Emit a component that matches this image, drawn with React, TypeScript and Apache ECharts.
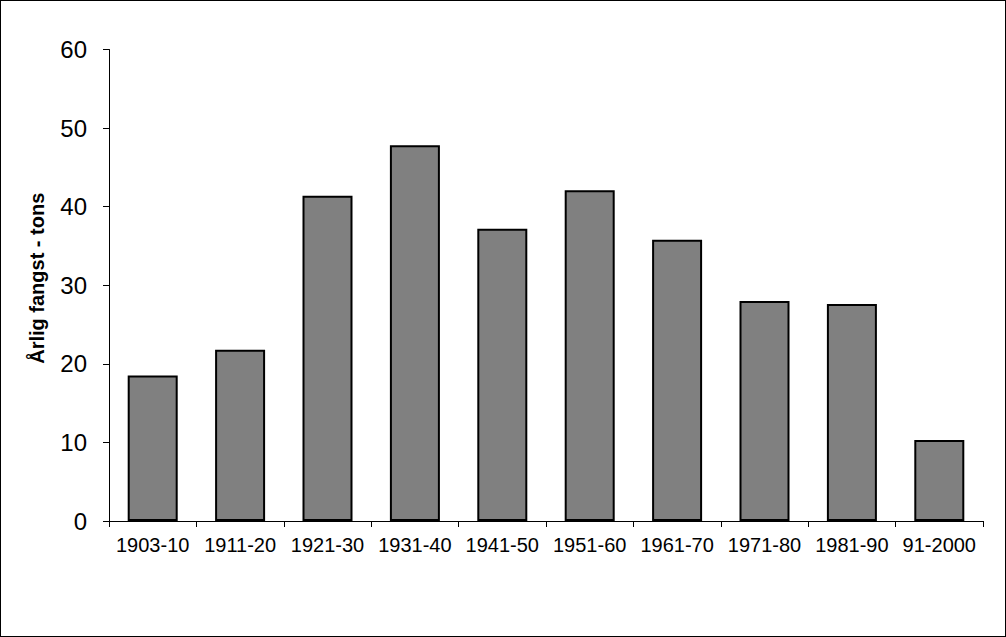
import { useEffect, useRef } from 'react';
import * as echarts from 'echarts';

const periods = ['1903-10', '1911-20', '1921-30', '1931-40', '1941-50', '1951-60', '1961-70', '1971-80', '1981-90', '91-2000'];
const catch_tons = [18.5, 21.8, 41.4, 47.8, 37.2, 42.1, 35.8, 28.0, 27.6, 10.3];

const FONT = '"Liberation Sans", Arial, sans-serif';

export default function App() {
  const chartRef = useRef<HTMLDivElement>(null);

  useEffect(() => {
    if (!chartRef.current) return;
    const chart = echarts.init(chartRef.current, null, { renderer: 'svg' });

    chart.setOption({
      animation: false,
      backgroundColor: '#ffffff',
      grid: { left: 108, right: 22, top: 48.5, bottom: 115, containLabel: false },
      xAxis: {
        type: 'category',
        data: periods,
        boundaryGap: true,
        axisLine: { lineStyle: { color: '#000', width: 1 } },
        axisTick: { show: true, inside: false, length: 6, alignWithLabel: false, lineStyle: { color: '#000' } },
        axisLabel: { color: '#000', fontSize: 20, fontFamily: FONT, margin: 14, interval: 0 },
        splitLine: { show: false },
      },
      yAxis: {
        type: 'value',
        min: 0,
        max: 60,
        interval: 10,
        name: 'Årlig fangst - tons',
        nameLocation: 'middle',
        nameGap: 62,
        nameRotate: 90,
        nameTextStyle: { color: '#000', fontSize: 20, fontWeight: 'bold', fontFamily: FONT, padding: [0, 0, 0, 14] },
        axisLine: { show: true, lineStyle: { color: '#000', width: 1 } },
        axisTick: { show: true, inside: false, length: 6, lineStyle: { color: '#000' } },
        axisLabel: { color: '#000', fontSize: 24, fontFamily: FONT, margin: 22 },
        splitLine: { show: false },
      },
      series: [
        {
          type: 'bar',
          data: catch_tons,
          barWidth: 50,
          itemStyle: { color: '#808080', borderColor: '#000', borderWidth: 2 },
        },
      ],
    });

    return () => chart.dispose();
  }, []);

  return (
    <div
      style={{
        position: 'fixed',
        left: 0,
        top: 0,
        width: 1006,
        height: 637,
        boxSizing: 'border-box',
        border: '1px solid #000',
        background: '#fff',
      }}
    >
      <div ref={chartRef} style={{ width: 1004, height: 635 }} />
    </div>
  );
}
